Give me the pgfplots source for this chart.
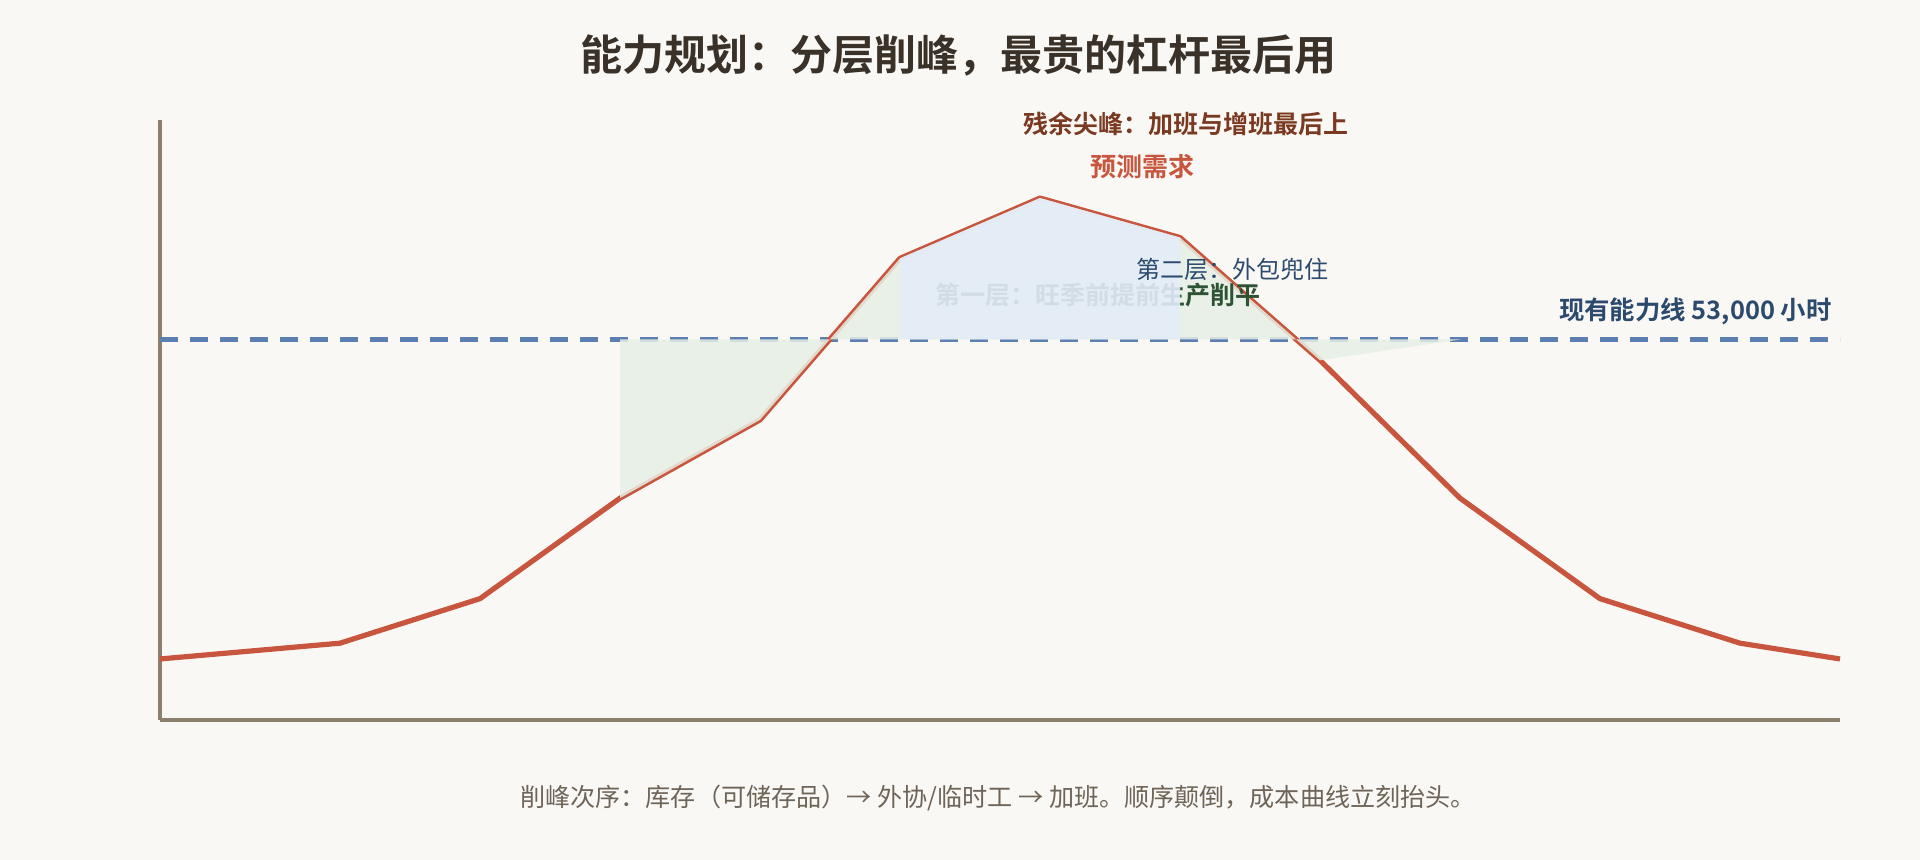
\documentclass[border=0pt]{standalone}
\usepackage{fontspec}
\setmainfont{Noto Sans CJK SC}[BoldFont={Noto Sans CJK SC Bold}]
\usepackage{pgfplots}
\pgfplotsset{compat=1.18}
\definecolor{bg}{HTML}{FAF8F4}
\definecolor{axisc}{HTML}{8B806B}
\definecolor{demand}{HTML}{C8553D}
\definecolor{capc}{HTML}{5B7FB0}
\definecolor{greenf}{HTML}{E7EFE6}
\definecolor{bluef}{HTML}{E4ECF8}
\definecolor{layerg}{HTML}{2D5234}
\definecolor{layerb}{HTML}{2C4A6E}
\definecolor{peakc}{HTML}{7A3A22}
\definecolor{titlec}{HTML}{3A3228}
\definecolor{footc}{HTML}{6E6458}
\begin{document}
\begin{tikzpicture}
\fill[bg] (0,0) rectangle (960pt,430pt);
\begin{axis}[at={(80pt,70pt)},anchor=south west,scale only axis,
  width=840pt,height=300pt,
  xmin=-0.2857,xmax=11.7143,ymin=0,ymax=83574,
  axis x line*=bottom, axis y line*=left,
  axis line style={draw=axisc,line width=1.6pt,-},
  xtick=\empty,ytick=\empty,clip=false]
% capacity line
\addplot[capc,line width=2.2pt,dash pattern=on 9pt off 6pt] coordinates {(-0.2857,53000)(11.7143,53000)};
% forecast demand
\addplot[demand,line width=2.6pt,line join=round] coordinates {
(-0.2857,8500)(1,10700)(2,16900)(3,30900)(4,41800)(5,64300)(6,72700)(7,67200)(8,50100)(9,30900)(10,16900)(11,10700)(11.7143,8500)};
% layer 1: pre-build
\addplot[draw=none,fill=greenf,fill opacity=0.85] coordinates {
(3,53000)(3,30900)(4,41800)(5,64300)(6,72700)(7,67200)(8,50100)(9,53000)} -- cycle;
\node[text=layerg,font=\bfseries\fontsize{12.5}{15}\selectfont] at (axis cs:6.414,59198) {第一层：旺季前提前生产削平};
% layer 2: outsourcing
\addplot[draw=none,fill=bluef,fill opacity=0.9] coordinates {
(5,53000)(5,64300)(6,72700)(7,67200)(7,53000)} -- cycle;
\end{axis}
\node[text=titlec,font=\bfseries\fontsize{21}{25}\selectfont] at (479pt,402pt) {能力规划：分层削峰，最贵的杠杆最后用};
\node[text=peakc,font=\bfseries\fontsize{12.5}{15}\selectfont] at (593pt,368pt) {残余尖峰：加班与增班最后上};
\node[text=demand,font=\bfseries\fontsize{13}{15}\selectfont] at (571pt,346.75pt) {预测需求};
\node[text=layerb,font=\fontsize{12}{14}\selectfont] at (616.25pt,295.5pt) {第二层：外包兜住};
\node[text=layerb,font=\bfseries\fontsize{12.7}{15}\selectfont,anchor=east,inner sep=0pt] at (916pt,274.5pt) {现有能力线 53,000 小时};
\node[text=footc,font=\fontsize{12.55}{15}\selectfont] at (499pt,31pt) {削峰次序：库存（可储存品）→ 外协/临时工 → 加班。顺序颠倒，成本曲线立刻抬头。};
\end{tikzpicture}
\end{document}
